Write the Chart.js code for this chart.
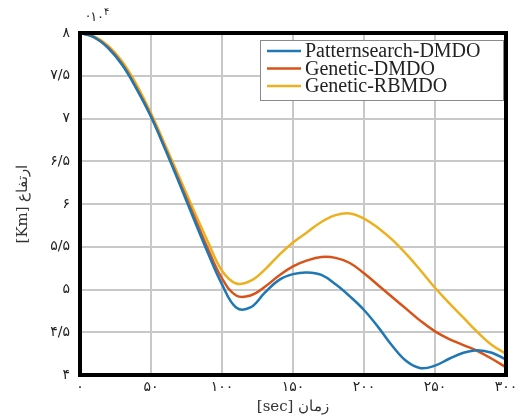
<!DOCTYPE html>
<html>
<head>
<meta charset="utf-8">
<script src="https://cdn.jsdelivr.net/npm/chart.js@4.4.1/dist/chart.umd.min.js"></script>
<style>
  html, body { margin: 0; padding: 0; background: #fff; }
  #wrap { width: 522px; height: 419px; position: relative; }
</style>
</head>
<body>
<div id="wrap"><canvas id="chart" width="522" height="419"></canvas></div>
<script>
// ---- data (time in sec, altitude x10^4) ----
const times = [0,10,20,30,40,50,60,70,80,90,100,110,120,130,140,150,160,170,180,190,200,210,220,230,240,250,260,270,280,290,300];
const patternDMDO = [8.00,7.95,7.82,7.62,7.34,7.02,6.64,6.24,5.83,5.43,5.06,4.79,4.79,4.96,5.11,5.18,5.20,5.17,5.06,4.92,4.76,4.56,4.34,4.16,4.08,4.11,4.19,4.26,4.29,4.26,4.18];
const geneticDMDO = [8.00,7.95,7.83,7.63,7.35,7.03,6.65,6.26,5.87,5.48,5.13,4.93,4.93,5.03,5.16,5.27,5.34,5.38,5.37,5.31,5.19,5.05,4.91,4.77,4.63,4.51,4.42,4.35,4.28,4.19,4.09];
const geneticRBMDO = [8.00,7.96,7.85,7.66,7.39,7.06,6.69,6.31,5.93,5.56,5.22,5.07,5.10,5.23,5.40,5.55,5.67,5.79,5.87,5.89,5.83,5.72,5.58,5.41,5.22,5.02,4.84,4.67,4.50,4.35,4.25];

const seriesNames = ["Patternsearch-DMDO", "Genetic-DMDO", "Genetic-RBMDO"];
const seriesColors = ["#1f77b4", "#d95319", "#edb120"];

const xTickValues = [0, 50, 100, 150, 200, 250, 300];
const xTickLabels = ["۰", "۵۰", "۱۰۰", "۱۵۰", "۲۰۰", "۲۵۰", "۳۰۰"];
const yTickValues = [4, 4.5, 5, 5.5, 6, 6.5, 7, 7.5, 8];
const yTickLabels = ["۴", "۴/۵", "۵", "۵/۵", "۶", "۶/۵", "۷", "۷/۵", "۸"];

const xTitle = "[sec] زمان";
const yTitle = "[Km] ارتفاع";

function toPoints(values) {
  return times.map((t, i) => ({ x: t, y: values[i] }));
}

// frame, legend box and exponent
const framePlugin = {
  id: "frame",
  afterDraw(chart) {
    const { ctx, chartArea: a } = chart;
    ctx.save();
    ctx.strokeStyle = "#000";
    ctx.lineWidth = 4;
    ctx.strokeRect(a.left, a.top, a.right - a.left, a.bottom - a.top);

    // exponent label
    ctx.fillStyle = "#222";
    ctx.font = "13px 'DejaVu Sans'";
    ctx.textBaseline = "alphabetic";
    ctx.textAlign = "left";
    ctx.fillText("·۱۰", 86, 21);
    ctx.font = "10px 'DejaVu Sans'";
    ctx.fillText("۴", 104, 15);

    // legend
    const bx = 260, by = 40, bw = 243, bh = 60;
    ctx.fillStyle = "#fff";
    ctx.fillRect(bx, by, bw, bh);
    ctx.strokeStyle = "#8a8a8a";
    ctx.lineWidth = 1;
    ctx.strokeRect(bx + 0.5, by + 0.5, bw, bh);
    ctx.font = "20px 'Liberation Serif'";
    ctx.textBaseline = "middle";
    chart.data.datasets.forEach((ds, i) => {
      const y = by + 11 + i * 17.5;
      ctx.strokeStyle = ds.borderColor;
      ctx.lineWidth = 2.5;
      ctx.beginPath();
      ctx.moveTo(bx + 7, y);
      ctx.lineTo(bx + 41, y);
      ctx.stroke();
      ctx.fillStyle = "#222";
      ctx.fillText(ds.label, bx + 45, y + 1);
    });
    ctx.restore();
  }
};

new Chart(document.getElementById("chart"), {
  type: "line",
  data: {
    datasets: [patternDMDO, geneticDMDO, geneticRBMDO].map((vals, i) => ({
      label: seriesNames[i],
      data: toPoints(vals),
      borderColor: seriesColors[i],
      borderWidth: 2.5,
      pointRadius: 0,
      tension: 0.4,
      fill: false
    }))
  },
  options: {
    responsive: false,
    animation: false,
    layout: { padding: { left: 0, top: 33, right: 16, bottom: 0 } },
    plugins: {
      legend: { display: false },
      tooltip: { enabled: false }
    },
    scales: {
      x: {
        type: "linear",
        min: 0,
        max: 300,
        afterFit: (s) => { s.height = 44; },
        afterBuildTicks: (s) => { s.ticks = xTickValues.map(v => ({ value: v })); },
        ticks: {
          padding: 4,
          color: "#222",
          font: { family: "DejaVu Sans", size: 14 },
          maxRotation: 0,
          callback: (v) => xTickLabels[xTickValues.indexOf(v)]
        },
        grid: { color: "#c8c8c8", lineWidth: 2, drawTicks: false },
        border: { display: false },
        title: {
          display: true,
          text: xTitle,
          color: "#333",
          font: { family: "DejaVu Serif", size: 15 },
          padding: { top: 0, bottom: 3 }
        }
      },
      y: {
        min: 4,
        max: 8,
        afterFit: (s) => { s.width = 80; },
        afterBuildTicks: (s) => { s.ticks = yTickValues.map(v => ({ value: v })); },
        ticks: {
          padding: 10,
          color: "#222",
          font: { family: "DejaVu Sans", size: 14 },
          callback: (v) => yTickLabels[yTickValues.indexOf(v)]
        },
        grid: { color: "#c8c8c8", lineWidth: 2, drawTicks: false },
        border: { display: false },
        title: {
          display: true,
          text: yTitle,
          color: "#333",
          font: { family: "DejaVu Serif", size: 15 },
          padding: { top: 14, bottom: 0 }
        }
      }
    }
  },
  plugins: [framePlugin]
});
</script>
</body>
</html>
